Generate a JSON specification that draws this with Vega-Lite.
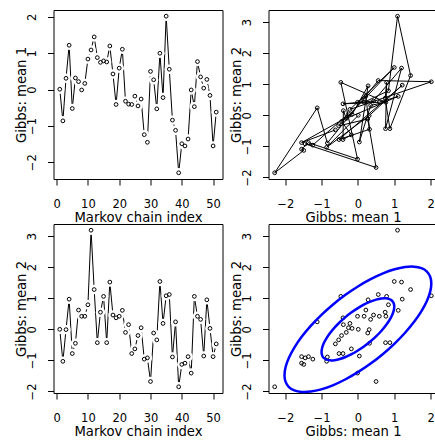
{
  "$schema": "https://vega.github.io/schema/vega-lite/v6.json",
  "padding": {"left": 13.5, "top": 9, "right": 0, "bottom": 2},
  "background": "white",
  "config": {
    "view": {"stroke": "black", "strokeWidth": 1},
    "font": "DejaVu Sans",
    "axis": {
      "grid": false, "domain": false, "ticks": true, "tickSize": 6, "tickColor": "black", "tickWidth": 1,
      "labelColor": "black", "labelFont": "DejaVu Sans", "labelFontSize": 11.5, "labelFlush": false, "labelOverlap": false,
      "titleFont": "DejaVu Sans", "titleFontSize": 13.2, "titleFontWeight": "normal", "titleColor": "black"
    }
  },
  "datasets": {
    "chain": [
      {"i":1,"m1":0.01,"m2":0.0},{"i":2,"m1":-0.86,"m2":-1.03},{"i":3,"m1":0.31,"m2":-0.01},{"i":4,"m1":1.22,"m2":0.97},
      {"i":5,"m1":-0.52,"m2":-0.78},{"i":6,"m1":0.32,"m2":-0.45},{"i":7,"m1":0.22,"m2":0.62},{"i":8,"m1":-0.01,"m2":0.42},
      {"i":9,"m1":0.17,"m2":0.42},{"i":10,"m1":0.84,"m2":0.79},{"i":11,"m1":1.09,"m2":3.19},{"i":12,"m1":1.45,"m2":1.28},
      {"i":13,"m1":0.88,"m2":-0.43},{"i":14,"m1":0.75,"m2":0.55},{"i":15,"m1":0.79,"m2":1.06},{"i":16,"m1":0.76,"m2":-0.43},
      {"i":17,"m1":1.2,"m2":1.52},{"i":18,"m1":0.43,"m2":0.46},{"i":19,"m1":-0.41,"m2":0.37},{"i":20,"m1":0.59,"m2":0.42},
      {"i":21,"m1":1.11,"m2":0.61},{"i":22,"m1":-0.32,"m2":-0.1},{"i":23,"m1":-0.4,"m2":0.15},{"i":24,"m1":-0.41,"m2":-0.78},
      {"i":25,"m1":-0.18,"m2":-0.63},{"i":26,"m1":-0.45,"m2":-0.2},{"i":27,"m1":-0.26,"m2":0.05},{"i":28,"m1":-1.24,"m2":-0.96},
      {"i":29,"m1":-1.45,"m2":-0.92},{"i":30,"m1":0.5,"m2":-1.68},{"i":31,"m1":0.27,"m2":-0.12},{"i":32,"m1":-0.53,"m2":-0.34},
      {"i":33,"m1":1.0,"m2":1.54},{"i":34,"m1":-0.22,"m2":0.19},{"i":35,"m1":2.02,"m2":1.08},{"i":36,"m1":0.56,"m2":1.12},
      {"i":37,"m1":-0.84,"m2":-0.89},{"i":38,"m1":-1.12,"m2":0.24},{"i":39,"m1":-2.29,"m2":-1.85},{"i":40,"m1":-1.49,"m2":-1.13},
      {"i":41,"m1":-1.55,"m2":-1.09},{"i":42,"m1":-1.36,"m2":-0.88},{"i":43,"m1":-0.01,"m2":-1.41},{"i":44,"m1":-0.47,"m2":1.06},
      {"i":45,"m1":0.77,"m2":0.42},{"i":46,"m1":0.35,"m2":0.32},{"i":47,"m1":0.04,"m2":-0.86},{"i":48,"m1":0.28,"m2":0.95},
      {"i":49,"m1":-0.16,"m2":0.03},{"i":50,"m1":-1.55,"m2":-0.88},{"i":51,"m1":-0.62,"m2":-0.47}
    ],
    "ellipse": [
      {"lv":1,"t":0,"ex":1,"ey":0.73},{"lv":1,"t":10,"ex":0.985,"ey":0.838},{"lv":1,"t":20,"ex":0.94,"ey":0.92},
      {"lv":1,"t":30,"ex":0.866,"ey":0.974},{"lv":1,"t":40,"ex":0.766,"ey":0.999},{"lv":1,"t":50,"ex":0.643,"ey":0.993},
      {"lv":1,"t":60,"ex":0.5,"ey":0.957},{"lv":1,"t":70,"ex":0.342,"ey":0.892},{"lv":1,"t":80,"ex":0.174,"ey":0.8},
      {"lv":1,"t":90,"ex":0,"ey":0.683},{"lv":1,"t":100,"ex":-0.174,"ey":0.546},{"lv":1,"t":110,"ex":-0.342,"ey":0.393},
      {"lv":1,"t":120,"ex":-0.5,"ey":0.227},{"lv":1,"t":130,"ex":-0.643,"ey":0.054},{"lv":1,"t":140,"ex":-0.766,"ey":-0.12},
      {"lv":1,"t":150,"ex":-0.866,"ey":-0.291},{"lv":1,"t":160,"ex":-0.94,"ey":-0.452},{"lv":1,"t":170,"ex":-0.985,"ey":-0.6},
      {"lv":1,"t":180,"ex":-1,"ey":-0.73},{"lv":1,"t":190,"ex":-0.985,"ey":-0.838},{"lv":1,"t":200,"ex":-0.94,"ey":-0.92},
      {"lv":1,"t":210,"ex":-0.866,"ey":-0.974},{"lv":1,"t":220,"ex":-0.766,"ey":-0.999},{"lv":1,"t":230,"ex":-0.643,"ey":-0.993},
      {"lv":1,"t":240,"ex":-0.5,"ey":-0.957},{"lv":1,"t":250,"ex":-0.342,"ey":-0.892},{"lv":1,"t":260,"ex":-0.174,"ey":-0.8},
      {"lv":1,"t":270,"ex":0,"ey":-0.683},{"lv":1,"t":280,"ex":0.174,"ey":-0.546},{"lv":1,"t":290,"ex":0.342,"ey":-0.393},
      {"lv":1,"t":300,"ex":0.5,"ey":-0.227},{"lv":1,"t":310,"ex":0.643,"ey":-0.054},{"lv":1,"t":320,"ex":0.766,"ey":0.12},
      {"lv":1,"t":330,"ex":0.866,"ey":0.291},{"lv":1,"t":340,"ex":0.94,"ey":0.452},{"lv":1,"t":350,"ex":0.985,"ey":0.6},
      {"lv":2,"t":0,"ex":2.02,"ey":1.475},{"lv":2,"t":10,"ex":1.989,"ey":1.692},{"lv":2,"t":20,"ex":1.898,"ey":1.858},
      {"lv":2,"t":30,"ex":1.749,"ey":1.967},{"lv":2,"t":40,"ex":1.547,"ey":2.017},{"lv":2,"t":50,"ex":1.298,"ey":2.005},
      {"lv":2,"t":60,"ex":1.01,"ey":1.933},{"lv":2,"t":70,"ex":0.691,"ey":1.802},{"lv":2,"t":80,"ex":0.351,"ey":1.615},
      {"lv":2,"t":90,"ex":0,"ey":1.38},{"lv":2,"t":100,"ex":-0.351,"ey":1.104},{"lv":2,"t":110,"ex":-0.691,"ey":0.793},
      {"lv":2,"t":120,"ex":-1.01,"ey":0.458},{"lv":2,"t":130,"ex":-1.298,"ey":0.11},{"lv":2,"t":140,"ex":-1.547,"ey":-0.242},
      {"lv":2,"t":150,"ex":-1.749,"ey":-0.587},{"lv":2,"t":160,"ex":-1.898,"ey":-0.914},{"lv":2,"t":170,"ex":-1.989,"ey":-1.213},
      {"lv":2,"t":180,"ex":-2.02,"ey":-1.475},{"lv":2,"t":190,"ex":-1.989,"ey":-1.692},{"lv":2,"t":200,"ex":-1.898,"ey":-1.858},
      {"lv":2,"t":210,"ex":-1.749,"ey":-1.967},{"lv":2,"t":220,"ex":-1.547,"ey":-2.017},{"lv":2,"t":230,"ex":-1.298,"ey":-2.005},
      {"lv":2,"t":240,"ex":-1.01,"ey":-1.933},{"lv":2,"t":250,"ex":-0.691,"ey":-1.802},{"lv":2,"t":260,"ex":-0.351,"ey":-1.615},
      {"lv":2,"t":270,"ex":0,"ey":-1.38},{"lv":2,"t":280,"ex":0.351,"ey":-1.104},{"lv":2,"t":290,"ex":0.691,"ey":-0.793},
      {"lv":2,"t":300,"ex":1.01,"ey":-0.458},{"lv":2,"t":310,"ex":1.298,"ey":-0.11},{"lv":2,"t":320,"ex":1.547,"ey":0.242},
      {"lv":2,"t":330,"ex":1.749,"ey":0.587},{"lv":2,"t":340,"ex":1.898,"ey":0.914},{"lv":2,"t":350,"ex":1.989,"ey":1.213}
    ]
  },
  "columns": 2,
  "bounds": "flush",
  "spacing": {"row": 45, "column": 46},
  "concat": [
    {
      "width": 169, "height": 169,
      "data": {"name": "chain"},
      "encoding": {
        "x": {"field": "i", "type": "quantitative", "scale": {"domain": [-1, 53], "nice": false, "zero": false},
              "axis": {"values": [0,10,20,30,40,50], "title": "Markov chain index", "labelBaseline": "alphabetic", "labelPadding": 22.7, "titleBaseline": "alphabetic", "titleY": 42.5}},
        "y": {"field": "m1", "type": "quantitative", "scale": {"domain": [-2.46, 2.19], "nice": false, "zero": false},
              "axis": {"values": [-2,-1,0,1,2], "title": "Gibbs: mean 1", "labelAngle": 270, "labelAlign": "center", "labelBaseline": "alphabetic", "labelPadding": 12, "titleAngle": 270, "titleAlign": "center", "titleBaseline": "alphabetic", "titleX": -28}}
      },
      "layer": [
        {"mark": {"type": "line", "color": "black", "strokeWidth": 1}},
        {"mark": {"type": "circle", "color": "white", "size": 90, "opacity": 1}},
        {"mark": {"type": "point", "shape": "circle", "filled": false, "color": "black", "size": 14, "strokeWidth": 1, "opacity": 1}}
      ]
    },
    {
      "width": 169, "height": 169,
      "data": {"name": "chain"},
      "encoding": {
        "x": {"field": "m1", "type": "quantitative", "scale": {"domain": [-2.46, 2.19], "nice": false, "zero": false},
              "axis": {"values": [-2,-1,0,1,2], "title": "Gibbs: mean 1", "labelBaseline": "alphabetic", "labelPadding": 22.7, "titleBaseline": "alphabetic", "titleY": 42.5}},
        "y": {"field": "m2", "type": "quantitative", "scale": {"domain": [-2.05, 3.39], "nice": false, "zero": false},
              "axis": {"values": [-2,-1,0,1,2,3], "title": "Gibbs: mean 2", "labelAngle": 270, "labelAlign": "center", "labelBaseline": "alphabetic", "labelPadding": 12, "titleAngle": 270, "titleAlign": "center", "titleBaseline": "alphabetic", "titleX": -28}}
      },
      "layer": [
        {"mark": {"type": "line", "color": "black", "strokeWidth": 1}, "encoding": {"order": {"field": "i", "type": "quantitative"}}},
        {"mark": {"type": "point", "shape": "circle", "filled": false, "color": "black", "size": 14, "strokeWidth": 1, "opacity": 1}}
      ]
    },
    {
      "width": 169, "height": 169,
      "data": {"name": "chain"},
      "encoding": {
        "x": {"field": "i", "type": "quantitative", "scale": {"domain": [-1, 53], "nice": false, "zero": false},
              "axis": {"values": [0,10,20,30,40,50], "title": "Markov chain index", "labelBaseline": "alphabetic", "labelPadding": 22.7, "titleBaseline": "alphabetic", "titleY": 42.5}},
        "y": {"field": "m2", "type": "quantitative", "scale": {"domain": [-2.05, 3.39], "nice": false, "zero": false},
              "axis": {"values": [-2,-1,0,1,2,3], "title": "Gibbs: mean 2", "labelAngle": 270, "labelAlign": "center", "labelBaseline": "alphabetic", "labelPadding": 12, "titleAngle": 270, "titleAlign": "center", "titleBaseline": "alphabetic", "titleX": -28}}
      },
      "layer": [
        {"mark": {"type": "line", "color": "black", "strokeWidth": 1}},
        {"mark": {"type": "circle", "color": "white", "size": 90, "opacity": 1}},
        {"mark": {"type": "point", "shape": "circle", "filled": false, "color": "black", "size": 14, "strokeWidth": 1, "opacity": 1}}
      ]
    },
    {
      "width": 169, "height": 169,
      "encoding": {
        "x": {"type": "quantitative", "scale": {"domain": [-2.46, 2.19], "nice": false, "zero": false},
              "axis": {"values": [-2,-1,0,1,2], "title": "Gibbs: mean 1", "labelBaseline": "alphabetic", "labelPadding": 22.7, "titleBaseline": "alphabetic", "titleY": 42.5}},
        "y": {"type": "quantitative", "scale": {"domain": [-2.05, 3.39], "nice": false, "zero": false},
              "axis": {"values": [-2,-1,0,1,2,3], "title": "Gibbs: mean 2", "labelAngle": 270, "labelAlign": "center", "labelBaseline": "alphabetic", "labelPadding": 12, "titleAngle": 270, "titleAlign": "center", "titleBaseline": "alphabetic", "titleX": -28}}
      },
      "layer": [
        {
          "data": {"name": "chain"},
          "mark": {"type": "point", "shape": "circle", "filled": false, "color": "black", "size": 14, "strokeWidth": 1, "opacity": 1},
          "encoding": {"x": {"field": "m1", "type": "quantitative"}, "y": {"field": "m2", "type": "quantitative"}}
        },
        {
          "data": {"name": "ellipse"},
          "mark": {"type": "line", "color": "#0000FF", "strokeWidth": 2.5, "interpolate": "cardinal-closed"},
          "encoding": {
            "x": {"field": "ex", "type": "quantitative"},
            "y": {"field": "ey", "type": "quantitative"},
            "detail": {"field": "lv", "type": "nominal"},
            "order": {"field": "t", "type": "quantitative"}
          }
        }
      ]
    }
  ]
}
